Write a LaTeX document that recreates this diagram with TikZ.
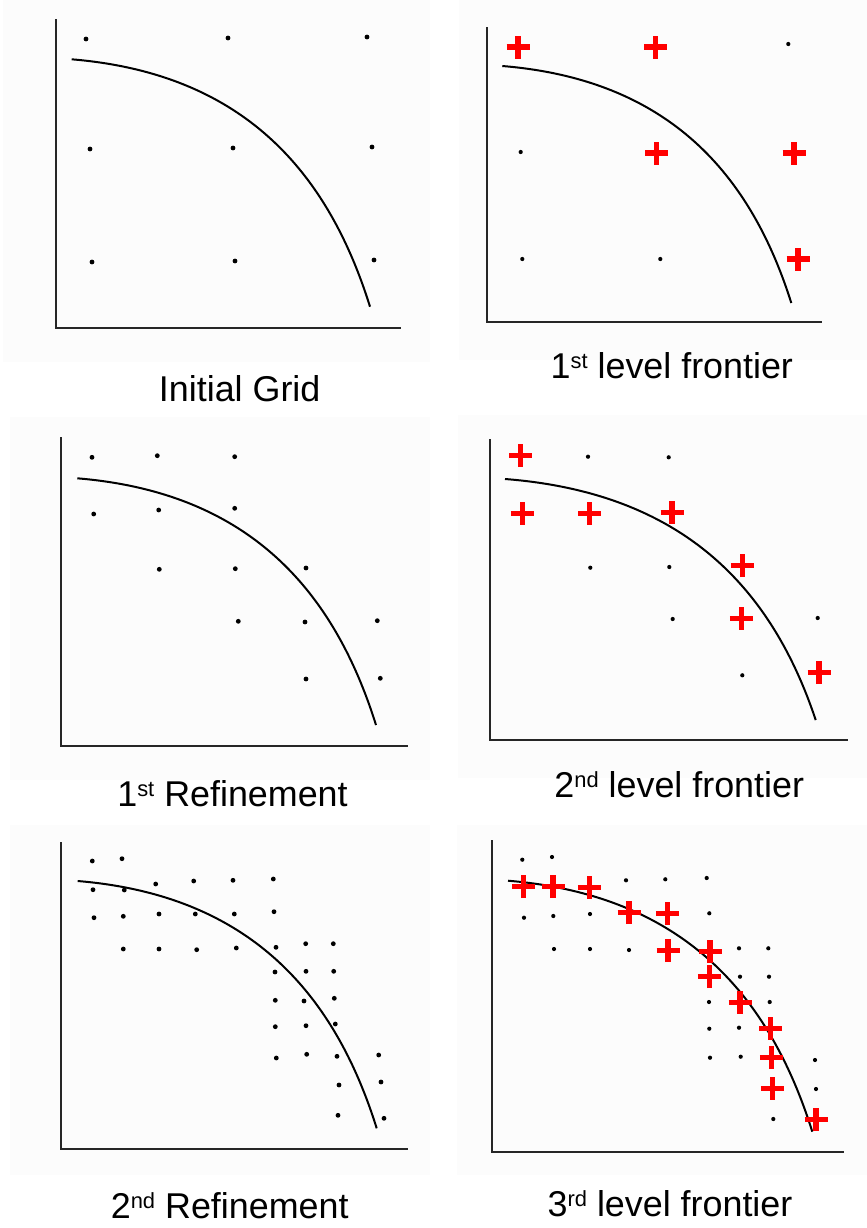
\documentclass[tikz,border=0pt]{standalone}
\usepackage{fontspec}
\setmainfont{Liberation Sans}
\tikzset{
  ax/.style={line width=2.2bp, draw=black!85, line cap=rect},
  fr/.style={line width=2bp, draw=black},
  bgpanel/.style={fill=black!1, draw=none},
  lbl/.style={anchor=base, font=\fontsize{36}{40}\selectfont, inner sep=0pt},
  crossmark/.pic={\draw[red, line width=5.5bp] (-11.5bp,0)--(11.5bp,0) (0,-11.5bp)--(0,11.5bp);}
}
\newcommand\sups[1]{\raisebox{10bp}{\fontsize{22}{24}\selectfont #1}}
\newcommand\frontier[4]{%
  \pgfmathsetmacro\fdx{#3-#1}\pgfmathsetmacro\fdy{#4-#2}%
  \begin{scope}[shift={(#1,#2)}, x=\fdx bp, y=-\fdy bp]
    \draw[fr] (0,0) .. controls (0.55,0.055) and (0.85,0.42) .. (1,1);
  \end{scope}}
\begin{document}
\begin{tikzpicture}[x=1bp,y=-1bp]
\useasboundingbox (0,0) rectangle (867,1228);
\fill[white] (0,0) rectangle (867,1228);
% faint panel backgrounds
\fill[bgpanel] (3,0) rectangle (430,362);
\fill[bgpanel] (459,0) rectangle (867,360);
\fill[bgpanel] (10,417) rectangle (430,780);
\fill[bgpanel] (458,415) rectangle (867,778);
\fill[bgpanel] (10,825) rectangle (430,1175);
\fill[bgpanel] (457,825) rectangle (867,1175);

% ---------- Panel 1: Initial Grid ----------
\draw[ax] (55.7,20) -- (55.7,328) -- (400,328);
\frontier{71.7}{59.3}{370}{306.7}
\foreach \x/\y in {86/39,228/38,367/37,90/149,233/148,372/147,92/262,235/261,374/260}
  \fill (\x,\y) circle (2.4bp);
\node[lbl] (l1) at (239.7,401.7) {Initial Grid};

% ---------- Panel 2: 1st level frontier ----------
\draw[ax] (486.7,28) -- (486.7,322) -- (820.7,322);
\frontier{502.3}{66}{791.3}{303}
\foreach \x/\y in {788.3/44,520.7/152,522.3/259,660.3/259}
  \fill (\x,\y) circle (2.1bp);
\foreach \x/\y in {518/47,655.7/47,656.7/153,794/153,798/259}
  \pic at (\x,\y) {crossmark};
\node[lbl] (l2) at (671.8,378.3) {1\sups{st} level frontier};

% ---------- Panel 3: 1st Refinement ----------
\draw[ax] (61,438) -- (61,746) -- (406.7,746);
\frontier{77.3}{478.3}{376}{725}
\foreach \x/\y in {92/457.3,157.3/455.7,234.7/456.7,93.7/514,158.7/510,234.7/508.3,159.3/569.3,235.3/568.7,306/568,238.3/621.3,305/622,377.3/620.7,306/679,380.3/678.3}
  \fill (\x,\y) circle (2.4bp);
\node[lbl] (l3) at (232.5,806.7) {1\sups{st} Refinement};

% ---------- Panel 4: 2nd level frontier ----------
\draw[ax] (489.7,440) -- (489.7,740) -- (847.3,740);
\frontier{505}{479}{815.7}{720}
\foreach \x/\y in {588/456.7,668.7/457.3,590.3/567.7,669.3/567,672.7/619,817.7/618,742.3/675.3}
  \fill (\x,\y) circle (2.1bp);
\foreach \x/\y in {520.7/455.7,522.3/513.3,589.7/513.3,672/512.3,742.3/565.7,741.3/618.3,819/672.7}
  \pic at (\x,\y) {crossmark};
\node[lbl] (l4) at (679.2,797.3) {2\sups{nd} level frontier};

% ---------- Panel 5: 2nd Refinement ----------
\draw[ax] (61.3,842.7) -- (61.3,1149.3) -- (406.7,1149.3);
\frontier{77.7}{881}{376.7}{1128.3}
\foreach \x/\y in {92.3/861,122/858.7,
  93/889.7,124.3/890,155.7/884,193.7/881,233/880.3,273.3/879,
  94/917.7,123.3/916.3,159/914,195.3/914,234.3/914,274/911.7,
  123.3/949,159/949,196.7/949.7,236.3/948,276/947.3,305.7/943.7,333.3/943.7,
  275/972,306/971.3,333.7/971.3,
  275.3/1000.3,304/1001,334.3/998.3,
  275.3/1026.7,306/1025.7,335.3/1024,
  276.3/1058,306.7/1054.3,337/1056.3,378.7/1055,
  339/1085,381/1082,
  338/1115.3,384/1118.3}
  \fill (\x,\y) circle (2.4bp);
\node[lbl] (l5) at (229.7,1218.3) {2\sups{nd} Refinement};

% ---------- Panel 6: 3rd level frontier ----------
\draw[ax] (492.3,840.7) -- (492.3,1152.3) -- (843,1152.3);
\frontier{508}{880.7}{812.3}{1131.7}
\foreach \x/\y in {522.3/859.7,552/857,
  626/880.3,665.3/879.3,706.7/878,
  524/917.7,553.3/916,590/914,709.3/913.3,
  554/949,590/949,629/950,739/948.3,768.3/948.3,
  740/976.7,769/976.7,
  709/1002,769.7/1002,
  709.3/1028.7,739/1027.7,
  710/1057.7,740.7/1056.7,815/1060,
  816/1089,
  773.3/1119}
  \fill (\x,\y) circle (2.1bp);
\foreach \x/\y in {523.3/886.7,553/886.7,589.3/887.3,629/912.7,667.3/913.3,668/950.7,710/951.7,709.3/976.7,740/1002.3,770.7/1028.3,771.3/1057.3,772.3/1088.3,816/1119.3}
  \pic at (\x,\y) {crossmark};
\node[lbl] (l6) at (670,1216.7) {3\sups{rd} level frontier};
\end{tikzpicture}
\end{document}
